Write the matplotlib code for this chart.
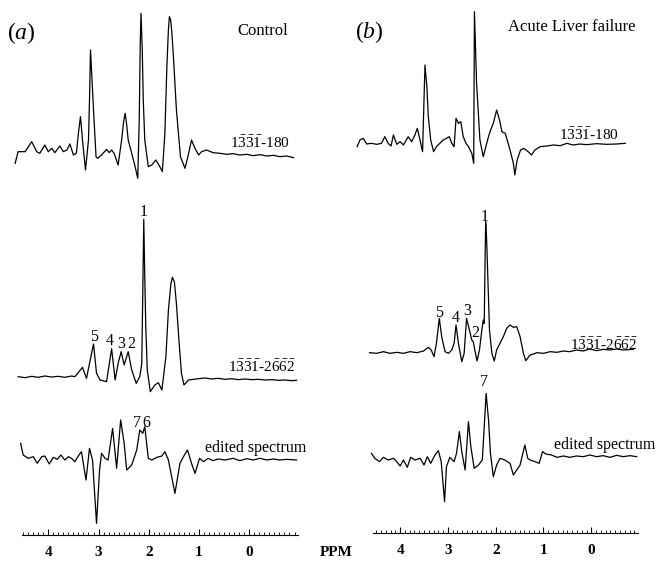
import numpy as np
import matplotlib
matplotlib.use("Agg")
import matplotlib.pyplot as plt
from matplotlib.ticker import FixedLocator

plt.rcParams['font.family'] = 'Liberation Serif'
plt.rcParams['mathtext.fontset'] = 'custom'
plt.rcParams['mathtext.rm'] = 'Liberation Serif'
plt.rcParams['mathtext.it'] = 'Liberation Serif:italic'

# ---- (a) Control ----
# 1331-180
a180_ppm = [4.66, 4.60, 4.46, 4.33, 4.23, 4.17, 4.07, 4.00, 3.93, 3.87, 3.77, 3.70, 3.63, 3.57,
            3.50, 3.44, 3.40, 3.36, 3.32, 3.26, 3.20, 3.18, 3.16, 3.13, 3.10, 3.05, 3.02, 2.94,
            2.84, 2.79, 2.74, 2.69, 2.61, 2.54, 2.50, 2.47, 2.44, 2.41, 2.34, 2.28, 2.22, 2.19,
            2.17, 2.155, 2.13, 2.11, 2.08, 2.01, 1.94, 1.86, 1.78, 1.73, 1.68, 1.64, 1.61, 1.59,
            1.565, 1.54, 1.51, 1.48, 1.45, 1.41, 1.37, 1.28, 1.22, 1.15, 1.08, 1.01, 0.95, 0.85,
            0.72, 0.58, 0.45, 0.32, 0.19, 0.05, -0.08, -0.21, -0.35, -0.48, -0.61, -0.74, -0.88]
a180_int = [-31, 4, 4, 34, 4, -1, 24, 4, 14, 1, 21, 4, 9, 27,
            -6, 0, 60, 109, 40, -51, 39, 159, 309, 219, 129, -11, -16, -6,
            11, 1, 9, -1, -36, 40, 95, 119, 85, 39, -1, -36, -76, 100,
            330, 419, 309, 159, 39, -41, -36, -21, -41, -56, 59, 259, 369, 409,
            399, 359, 289, 209, 129, 59, -11, -46, -10, 39, 14, -6, 4, 9,
            1, -1, -4, -2, -6, -4, -8, -5, -9, -7, -11, -9, -14]

# 1331-2662
a2662_ppm = [4.60, 4.46, 4.33, 4.20, 4.07, 3.93, 3.80, 3.67, 3.54, 3.47, 3.32, 3.24, 3.10, 3.04,
             2.97, 2.84, 2.74, 2.67, 2.61, 2.55, 2.49, 2.41, 2.34, 2.25, 2.18, 2.14, 2.12, 2.10,
             2.08, 2.06, 2.03, 1.97, 1.88, 1.81, 1.74, 1.66, 1.61, 1.56, 1.53, 1.49, 1.45, 1.40,
             1.35, 1.30, 1.21, 1.11, 1.01, 0.88, 0.75, 0.62, 0.48, 0.35, 0.22, 0.09, -0.05, -0.18,
             -0.31, -0.45, -0.58, -0.71, -0.84, -0.94]
a2662_int = [1, -2, 2, -1, 3, 0, 2, -1, 3, 1, 29, -4, 99, 11,
             -9, -14, 85, -9, 41, 76, 36, 76, 21, -19, 1, 40, 250, 473,
             300, 150, 21, -44, -24, -17, -39, 60, 200, 280, 299, 285, 220, 110,
             11, -24, -9, -7, -5, -3, -6, -4, -7, -5, -8, -6, -8, -7,
             -9, -8, -10, -9, -11, -10]

# edited spectrum
a_ed_ppm = [4.55, 4.50, 4.40, 4.30, 4.22, 4.13, 4.07, 3.98, 3.90, 3.82, 3.75, 3.67, 3.60, 3.54,
            3.47, 3.39, 3.34, 3.25, 3.18, 3.12, 3.04, 2.98, 2.94, 2.87, 2.81, 2.72, 2.64, 2.56,
            2.49, 2.44, 2.34, 2.24, 2.18, 2.12, 2.08, 2.01, 1.94, 1.84, 1.74, 1.68, 1.61, 1.48,
            1.38, 1.31, 1.23, 1.15, 1.08, 0.99, 0.91, 0.82, 0.72, 0.62, 0.48, 0.32, 0.19, 0.05,
            -0.08, -0.21, -0.35, -0.48, -0.61, -0.74, -0.94]
a_ed_int = [48, 13, 3, 8, -12, 8, 10, -14, 6, 0, 13, -2, 8, 3,
            -7, 13, 23, -62, 33, -2, -192, -32, 18, 3, -2, 93, -27, 118,
            48, -32, -17, 28, 88, 78, 98, 3, -2, 6, 10, 23, -2, -102,
            -12, 8, 28, -12, -42, 3, -7, 3, -4, 1, -2, 3, -4, 2,
            -2, 3, -2, 1, -2, 0, -2]

# ---- (b) Acute liver failure ----
b180_ppm = [4.90, 4.84, 4.77, 4.70, 4.60, 4.49, 4.39, 4.32, 4.25, 4.19, 4.14, 4.07, 4.00, 3.93,
            3.83, 3.76, 3.69, 3.64, 3.58, 3.53, 3.48, 3.44, 3.41, 3.36, 3.30, 3.24, 3.17, 3.10,
            3.03, 2.97, 2.92, 2.87, 2.83, 2.78, 2.73, 2.68, 2.62, 2.57, 2.50, 2.46, 2.445, 2.40,
            2.33, 2.26, 2.17, 2.12, 2.05, 1.98, 1.92, 1.87, 1.80, 1.70, 1.63, 1.60, 1.55, 1.48,
            1.41, 1.32, 1.25, 1.18, 1.07, 0.93, 0.79, 0.65, 0.51, 0.38, 0.24, 0.10, -0.11, -0.32,
            -0.53, -0.71]
b180_int = [-8, 12, 17, 0, 2, -1, 2, 22, 2, -6, 27, -1, 7, -3,
            22, 7, 27, 47, 10, -23, 237, 172, 82, 12, -23, -8, 2, 12,
            17, 22, 2, -8, 77, 62, 67, 22, 2, -8, -28, -58, 397, 182,
            12, -38, 12, 37, 62, 102, 72, 37, 32, -18, -58, -93, -48, -18,
            -13, -23, -33, -18, -8, -6, -3, -5, 2, -3, 0, -2, 1, -1,
            0, 2]

b2662_ppm = [4.64, 4.49, 4.35, 4.21, 4.07, 3.93, 3.79, 3.65, 3.51, 3.41, 3.35, 3.29, 3.24, 3.18,
             3.13, 3.06, 2.99, 2.92, 2.87, 2.83, 2.78, 2.71, 2.66, 2.61, 2.55, 2.50, 2.47, 2.43,
             2.39, 2.34, 2.29, 2.26, 2.24, 2.22, 2.21, 2.19, 2.17, 2.13, 2.08, 2.03, 1.98, 1.91,
             1.84, 1.77, 1.70, 1.63, 1.56, 1.49, 1.42, 1.37, 1.28, 1.21, 1.14, 1.00, 0.86, 0.72,
             0.58, 0.45, 0.31, 0.17, 0.03, -0.11, -0.25, -0.39, -0.53, -0.67, -0.88]
b2662_int = [0, -2, 3, -2, 1, -2, 3, 0, 5, 16, 8, -12, 28, 103,
             48, 3, -2, 8, 28, 83, 28, -27, -2, 103, 68, 38, 33, 3,
             -25, 8, 68, 98, 88, 300, 393, 340, 250, 68, -2, -25, 8, 28,
             48, 73, 83, 76, 78, 48, -2, -24, -7, -4, 0, -2, 3, 1,
             5, 3, 8, 5, 11, 6, 10, 8, 11, 8, 10]

b_ed_ppm = [4.60, 4.53, 4.43, 4.35, 4.25, 4.14, 4.07, 4.00, 3.93, 3.85, 3.78, 3.69, 3.58, 3.50,
            3.43, 3.36, 3.27, 3.20, 3.14, 3.07, 3.03, 2.96, 2.87, 2.82, 2.76, 2.71, 2.64, 2.57,
            2.52, 2.45, 2.36, 2.28, 2.20, 2.15, 2.11, 2.05, 1.98, 1.91, 1.81, 1.70, 1.63, 1.56,
            1.49, 1.44, 1.39, 1.33, 1.28, 1.18, 1.09, 1.02, 0.95, 0.83, 0.72, 0.58, 0.45, 0.31,
            0.17, 0.03, -0.11, -0.25, -0.39, -0.53, -0.67, -0.81, -0.95]
b_ed_int = [12, -3, -13, 0, -8, -3, -13, -26, -8, -30, 0, -8, -3, -23,
            2, -18, 7, 20, -13, -133, -28, 0, -13, 12, 77, 17, -38, 107,
            32, -33, -23, -8, 192, 112, 12, -58, -23, -3, -8, -18, -53, -38,
            -23, 7, 37, -3, -8, -13, -18, 17, 10, 7, 0, 4, 0, 4,
            2, 7, 2, 5, 0, 6, 2, 5, 2]

# peak labels: (text, ppm, height above baseline)
a_mid_labels = [("1", 2.11, 496), ("5", 3.09, 121), ("4", 2.77, 107), ("3", 2.54, 99), ("2", 2.34, 99)]
a_ed_labels = [("7", 2.24, 108), ("6", 2.04, 110)]
b_mid_labels = [("1", 2.24, 408), ("5", 3.18, 120), ("4", 2.84, 103), ("3", 2.59, 126), ("2", 2.43, 60)]
b_ed_labels = [("7", 2.24, 227)]

tick_labels = ["4", "3", "2", "1", "0"]
tick_vals = [4, 3, 2, 1, 0]

W, H = 657, 561
fig = plt.figure(figsize=(W / 100, H / 100), dpi=100)

seq180 = r'$\mathrm{1\bar{3}\bar{3}\bar{1}}$-180'
seq2662 = r'$\mathrm{1\bar{3}\bar{3}\bar{1}}$-$\mathrm{2\bar{6}\bar{6}\bar{2}}$'


def panel(left, width, xlim, spine_y, bounds, spectra, labels_mid, labels_ed):
    ax = fig.add_axes([left / W, 0, width / W, 1])
    ax.set_xlim(*xlim)
    ax.set_ylim(0, 3 * H)
    ax.patch.set_alpha(0)
    for s in ['left', 'right', 'top']:
        ax.spines[s].set_visible(False)
    ax.set_yticks([])
    ax.spines['bottom'].set_position(('data', spine_y))
    ax.spines['bottom'].set_bounds(*bounds)
    ax.spines['bottom'].set_linewidth(0.8)
    for (ppm, inten, off) in spectra:
        ax.plot(ppm, np.array(inten) + off, color='black', lw=0.9, clip_on=False)
    off_mid = spectra[1][2]
    off_ed = spectra[2][2]
    for t, p, h in labels_mid:
        ax.text(p, off_mid + h, t, ha='center', va='center', fontsize=11.5)
    for t, p, h in labels_ed:
        ax.text(p, off_ed + h, t, ha='center', va='center', fontsize=11.5)
    ax.xaxis.set_major_locator(FixedLocator(tick_vals))
    ax.set_xticklabels(tick_labels, fontsize=11, fontweight='bold')
    ax.xaxis.set_minor_locator(FixedLocator(np.arange(-0.9, 4.55, 0.1)))
    ax.tick_params(axis='x', which='major', direction='in', length=4, width=0.8, pad=8)
    ax.tick_params(axis='x', which='minor', direction='in', length=2.2, width=0.6)
    return ax


panel(0, 330, (4.961, -1.606), 3 * H - 3 * 535, (4.52, -0.97),
      [(a180_ppm, a180_int, 1224), (a2662_ppm, a2662_int, 552), (a_ed_ppm, a_ed_int, 305)],
      a_mid_labels, a_ed_labels)
panel(330, 327, (5.467, -1.375), 3 * H - 3 * 533, (4.57, -0.98),
      [(b180_ppm, b180_int, 1251), (b2662_ppm, b2662_int, 625), (b_ed_ppm, b_ed_int, 311)],
      b_mid_labels, b_ed_labels)


def ftext(x, y, s, **kw):
    fig.text(x / W, 1 - y / H, s, ha='center', va='center', **kw)


ftext(21, 33, r'$(a)$', fontsize=17)
ftext(263, 31, 'Control', fontsize=12)
ftext(369, 32, r'$(b)$', fontsize=17)
ftext(572, 27, 'Acute Liver failure', fontsize=12)
ftext(260, 143, seq180, fontsize=11)
ftext(589, 135, seq180, fontsize=11)
ftext(262, 367, seq2662, fontsize=11)
ftext(604, 345, seq2662, fontsize=11)
ftext(256, 448, 'edited spectrum', fontsize=11.5)
ftext(605, 445, 'edited spectrum', fontsize=11.5)
ftext(336, 552, 'PPM', fontsize=11, fontweight='bold')

fig.savefig('out.png', dpi=100)
